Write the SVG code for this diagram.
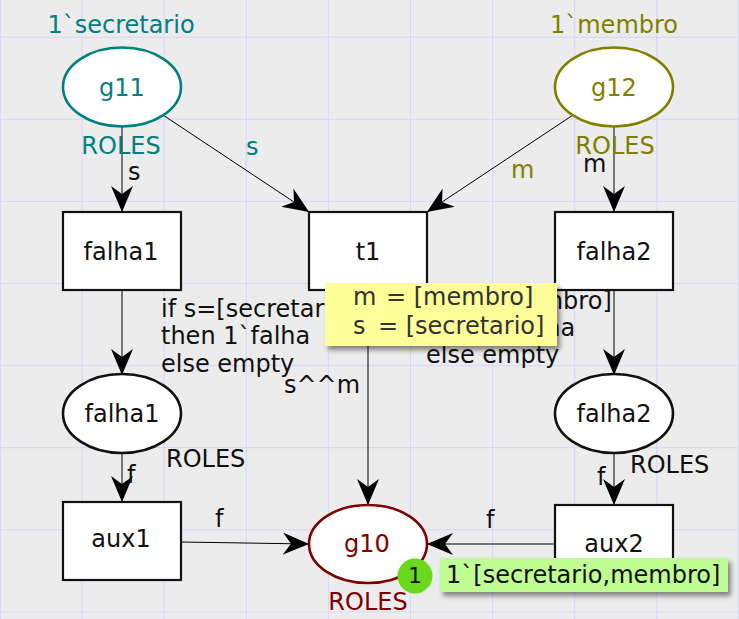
<svg xmlns="http://www.w3.org/2000/svg" width="739" height="619" viewBox="0 0 739 619">
<style>
.grid{stroke:#d6d6fb;stroke-width:1}
.arc{stroke:#000;stroke-width:1;fill:none;marker-end:url(#ah)}
.trans{fill:#fff;stroke:#111;stroke-width:2.2}
.place{fill:#fff;stroke-width:2.6}
text{font-family:"DejaVu Sans","Liberation Sans",sans-serif;font-size:24px;fill:#111}
.mid{text-anchor:middle}
.teal{fill:#008080}
.olive{fill:#808000}
.red{fill:#800000}
</style>
<defs>
<marker id="ah" markerUnits="userSpaceOnUse" viewBox="0 0 26 22" markerWidth="26" markerHeight="22" refX="26" refY="11" orient="auto">
<path d="M26,11 L0,0 L8,11 L0,22 Z" fill="#000"/>
</marker>
<filter id="sh" x="-10%" y="-20%" width="130%" height="160%">
<feDropShadow dx="3" dy="4" stdDeviation="2.5" flood-color="#000" flood-opacity="0.45"/>
</filter>
</defs>
<rect width="739" height="619" fill="#ececec"/>
<g id="grid">
<line class="grid" x1="0.5" y1="0" x2="0.5" y2="619"/>
<line class="grid" x1="82.1" y1="0" x2="82.1" y2="619"/>
<line class="grid" x1="164.2" y1="0" x2="164.2" y2="619"/>
<line class="grid" x1="246.3" y1="0" x2="246.3" y2="619"/>
<line class="grid" x1="328.4" y1="0" x2="328.4" y2="619"/>
<line class="grid" x1="410.5" y1="0" x2="410.5" y2="619"/>
<line class="grid" x1="492.6" y1="0" x2="492.6" y2="619"/>
<line class="grid" x1="574.7" y1="0" x2="574.7" y2="619"/>
<line class="grid" x1="656.8" y1="0" x2="656.8" y2="619"/>
<line class="grid" x1="738.5" y1="0" x2="738.5" y2="619"/>
<line class="grid" x1="0" y1="37.2" x2="739" y2="37.2"/>
<line class="grid" x1="0" y1="119.3" x2="739" y2="119.3"/>
<line class="grid" x1="0" y1="201.4" x2="739" y2="201.4"/>
<line class="grid" x1="0" y1="283.5" x2="739" y2="283.5"/>
<line class="grid" x1="0" y1="365.6" x2="739" y2="365.6"/>
<line class="grid" x1="0" y1="447.7" x2="739" y2="447.7"/>
<line class="grid" x1="0" y1="529.8" x2="739" y2="529.8"/>
<line class="grid" x1="0" y1="611.9" x2="739" y2="611.9"/>
</g>
<g id="connectors">
<line class="arc" x1="122" y1="127" x2="122" y2="212"/>
<line class="arc" x1="163" y1="115" x2="309" y2="212"/>
<line class="arc" x1="573" y1="115" x2="427" y2="212"/>
<line class="arc" x1="614" y1="127" x2="614" y2="212"/>
<line class="arc" x1="122" y1="290" x2="122" y2="375"/>
<line class="arc" x1="368" y1="290" x2="368" y2="505"/>
<line class="arc" x1="614" y1="290" x2="614" y2="375"/>
<line class="arc" x1="122" y1="453" x2="122" y2="502"/>
<line class="arc" x1="614" y1="453" x2="614" y2="505"/>
<line class="arc" x1="181" y1="542" x2="309" y2="544"/>
<line class="arc" x1="555" y1="544" x2="427" y2="544"/>
<text x="128" y="180">s</text>
<text x="246" y="155" class="teal">s</text>
<text x="511" y="178" class="olive">m</text>
<text x="583" y="172">m</text>
<text x="161" y="317">if s=[secretario]</text>
<text x="161" y="344">then 1`falha</text>
<text x="161" y="372">else empty</text>
<text x="426" y="309">if m=[membro]</text>
<text x="426" y="336">then 1`falha</text>
<text x="426" y="363">else empty</text>
<text x="284" y="393">s^^m</text>
<text x="127" y="483">f</text>
<text x="597" y="485">f</text>
<text x="215" y="527">f</text>
<text x="486" y="528">f</text>
</g>
<g id="g11">
<ellipse class="place" cx="122" cy="87" rx="59" ry="39.5" stroke="#008080"/>
<text x="122" y="96" class="mid teal">g11</text>
<text x="121" y="33" class="mid teal">1`secretario</text>
<text x="121" y="154" class="mid teal">ROLES</text>
</g>
<g id="g12">
<ellipse class="place" cx="614" cy="87" rx="59" ry="39.5" stroke="#808000"/>
<text x="614" y="96" class="mid olive">g12</text>
<text x="614" y="33" class="mid olive">1`membro</text>
<text x="615" y="154" class="mid olive">ROLES</text>
</g>
<g id="t_falha1">
<rect class="trans" x="63" y="212" width="118" height="78"/>
<text x="121" y="260" class="mid">falha1</text>
</g>
<g id="t1">
<rect class="trans" x="309" y="212" width="118" height="78"/>
<text x="368" y="260" class="mid">t1</text>
</g>
<g id="t_falha2">
<rect class="trans" x="555" y="212" width="118" height="78"/>
<text x="614" y="260" class="mid">falha2</text>
</g>
<g id="p_falha1">
<ellipse class="place" cx="122" cy="413.5" rx="59" ry="39.5" stroke="#111"/>
<text x="122" y="422" class="mid">falha1</text>
<text x="166" y="467">ROLES</text>
</g>
<g id="p_falha2">
<ellipse class="place" cx="614" cy="413.5" rx="59" ry="39.5" stroke="#111"/>
<text x="614" y="422" class="mid">falha2</text>
<text x="630" y="473">ROLES</text>
</g>
<g id="aux1">
<rect class="trans" x="63" y="502" width="118" height="78"/>
<text x="121" y="547" class="mid">aux1</text>
</g>
<g id="aux2">
<rect class="trans" x="555" y="505" width="118" height="78"/>
<text x="614" y="552" class="mid">aux2</text>
</g>
<g id="g10">
<ellipse class="place" cx="368" cy="544" rx="59" ry="39" stroke="#800000"/>
<text x="367" y="552" class="mid red">g10</text>
<text x="368" y="610" class="mid red">ROLES</text>
</g>
<g id="bindings">
<rect x="325" y="283" width="232" height="63" fill="#ffff99" filter="url(#sh)"/>
<text x="353" y="305" style="fill:#333">m</text>
<text x="386" y="305" style="fill:#333">= [membro]</text>
<text x="353" y="334" style="fill:#333">s</text>
<text x="378" y="334" style="fill:#333">= [secretario]</text>
</g>
<g id="marking">
<circle cx="415" cy="576" r="17.5" fill="#6ad91e"/>
<text x="415" y="583" class="mid" style="font-size:22px">1</text>
<rect x="440" y="558" width="288" height="34" fill="#c0fd92" filter="url(#sh)"/>
<text x="446" y="583">1`[secretario,membro]</text>
</g>
</svg>
